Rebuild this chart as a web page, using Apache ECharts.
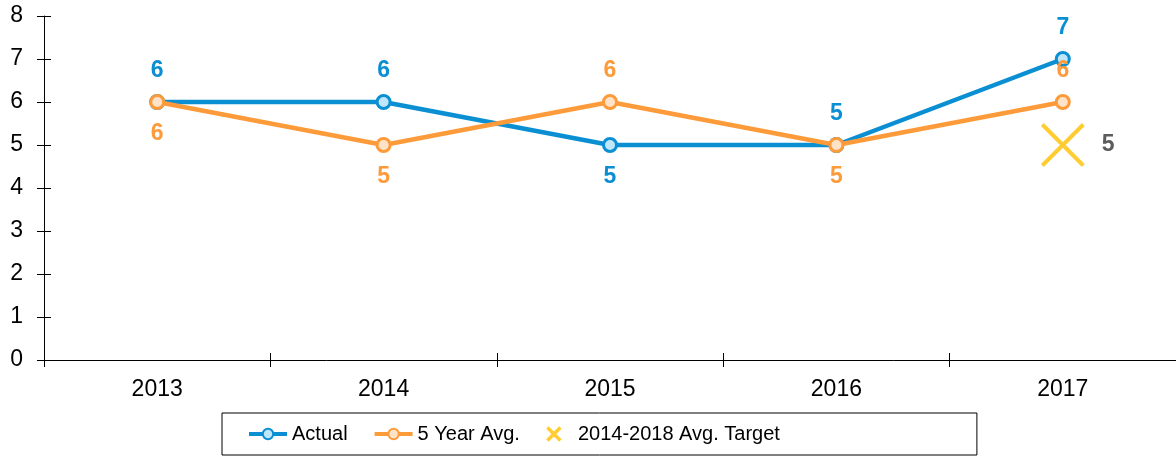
<!DOCTYPE html>
<html>
<head>
<meta charset="utf-8">
<script src="https://cdn.jsdelivr.net/npm/echarts@6/dist/echarts.min.js"></script>
<style>
  html, body { margin: 0; padding: 0; background: #fff; }
  #chart { width: 1176px; height: 457px; }
</style>
</head>
<body>
<div id="chart"></div>
<script>
const years = ['2013', '2014', '2015', '2016', '2017']
const actual = [6, 6, 5, 5, 7]
const fiveYearAvg = [6, 5, 6, 5, 6]
const target = [null, null, null, null, 5]

// where each value label sits relative to its point
const actualLabelPos = ['top', 'top', 'bottom', 'top', 'top']
const avgLabelPos = ['bottom', 'bottom', 'top', 'bottom', 'top']

const BLUE = '#0b8fd3'
const ORANGE = '#fd9b3b'
const GOLD = '#ffc000'
const X_PATH = 'path://M0,0L10,10M10,0L0,10'
const FONT = 'Liberation Sans, Arial, sans-serif'

const chart = echarts.init(document.getElementById('chart'))

const withLabels = (values, positions) =>
  values.map((v, i) => ({ value: v, label: { position: positions[i] } }))

const tickAxis = (base, inside) => Object.assign({}, base, {
  axisTick: { show: true, inside: inside, length: 7, lineStyle: { color: '#000' } }
})

const xBase = {
  type: 'category',
  data: years,
  boundaryGap: true,
  axisLine: { show: true, lineStyle: { color: '#000', width: 1 } },
  axisLabel: { color: '#000', fontSize: 23, margin: 18, fontFamily: FONT },
  splitLine: { show: false }
}

const yBase = {
  type: 'value',
  min: 0,
  max: 8,
  interval: 1,
  axisLine: { show: true, lineStyle: { color: '#000', width: 1 } },
  axisLabel: { color: '#000', fontSize: 23, margin: 21, fontFamily: FONT },
  splitLine: { show: false }
}

chart.setOption({
  animation: false,
  backgroundColor: '#fff',
  textStyle: { fontFamily: FONT },
  grid: { left: 44, right: 0, top: 16, bottom: 97, containLabel: false },
  legend: {
    left: 222,
    bottom: 2,
    padding: [11, 197, 11, 25],
    borderColor: '#000',
    borderWidth: 1,
    itemWidth: 38,
    itemHeight: 13,
    itemGap: 25,
    lineStyle: { width: 4 },
    textStyle: { color: '#000', fontSize: 20, fontFamily: FONT },
    data: [
      { name: 'Actual' },
      { name: '5 Year Avg.' },
      {
        name: '2014-2018 Avg. Target',
        icon: X_PATH,
        itemStyle: { color: 'none', borderColor: GOLD, borderWidth: 3.5 }
      }
    ]
  },
  xAxis: [
    tickAxis(xBase, false),
    Object.assign(tickAxis(xBase, true), {
      position: 'bottom',
      axisLine: { show: false },
      axisLabel: { show: false }
    })
  ],
  yAxis: [
    tickAxis(yBase, false),
    Object.assign(tickAxis(yBase, true), {
      position: 'left',
      axisLine: { show: false },
      axisLabel: { show: false }
    })
  ],
  series: [
    {
      name: 'Actual',
      type: 'line',
      data: withLabels(actual, actualLabelPos),
      symbol: 'circle',
      symbolSize: 13,
      lineStyle: { color: BLUE, width: 4.5 },
      itemStyle: { color: '#bfe6fb', borderColor: BLUE, borderWidth: 3 },
      label: {
        show: true,
        distance: 12,
        color: BLUE,
        fontSize: 23,
        fontWeight: 'bold'
      },
      z: 3
    },
    {
      name: '5 Year Avg.',
      type: 'line',
      data: withLabels(fiveYearAvg, avgLabelPos),
      symbol: 'circle',
      symbolSize: 13,
      lineStyle: { color: ORANGE, width: 4.5 },
      itemStyle: { color: '#fee3c9', borderColor: ORANGE, borderWidth: 3 },
      label: {
        show: true,
        distance: 12,
        color: ORANGE,
        fontSize: 23,
        fontWeight: 'bold'
      },
      z: 4
    },
    {
      name: '2014-2018 Avg. Target',
      type: 'scatter',
      data: target,
      symbol: X_PATH,
      symbolSize: 41,
      itemStyle: { color: 'none', borderColor: GOLD, borderWidth: 4 },
      label: {
        show: true,
        position: 'right',
        distance: 16,
        color: '#333',
        fontSize: 23,
        fontWeight: 'bold'
      },
      z: 5
    }
  ]
})
</script>
</body>
</html>
